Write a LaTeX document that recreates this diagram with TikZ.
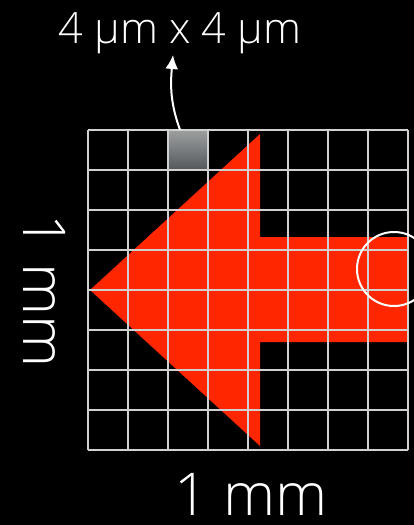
\documentclass[tikz,border=0pt]{standalone}
\usepackage{fontspec}
\setmainfont{Open Sans}[UprightFont=* Light]
\usepackage{tikz}
\usetikzlibrary{arrows.meta,positioning}
\definecolor{arrowred} {HTML}{FF2600}
\definecolor{gridgray} {HTML}{D0D0D0}
\definecolor{celltop}  {HTML}{9D9F9F}
\definecolor{cellbot}  {HTML}{54585C}
\newcommand{\bigfont}  {\fontsize{59}{66}\selectfont}
\newcommand{\midfont}  {\fontsize{43}{50}\selectfont}

\begin{document}
\begin{tikzpicture}[x=1pt, y=-1pt, text=white]
  \fill[black] (0,0) rectangle (414,525);
  \useasboundingbox (0,0) rectangle (414,525);
  % the big red arrow
  \fill[arrowred] (90,290) -- (260,134) -- (260,237) -- (408,237)
        -- (408,342) -- (260,342) -- (260,446) -- cycle;
  \node[minimum width=40pt, minimum height=40pt, inner sep=0pt,
        top color=celltop, bottom color=cellbot] (cell) at (188,150) {};
  \foreach \i in {0,...,8} {
    \draw[gridgray, line width=2.2pt] (88+\i*40,130) -- (88+\i*40,450);
    \draw[gridgray, line width=2.2pt] (88,130+\i*40) -- (408,130+\i*40);
  }
  \draw[white, line width=2pt] (394,269) circle (37pt);
  \node[font=\midfont, anchor=base] (size) at (180,43) {4 µm x 4 µm};
  \coordinate (tip) at (173,55);
  \draw[white, line width=2pt, -{Latex[length=14pt,width=13pt]}]
        ([xshift=-8pt]cell.north) to[out=110, in=-95] (tip);
  \node[font=\bigfont, anchor=base, inner sep=0pt, text depth=0pt]
        (width) at (251,515) {1 mm};
  \node[font=\bigfont, rotate=-90] (height) at (45,291) {1 mm};
\end{tikzpicture}
\end{document}
